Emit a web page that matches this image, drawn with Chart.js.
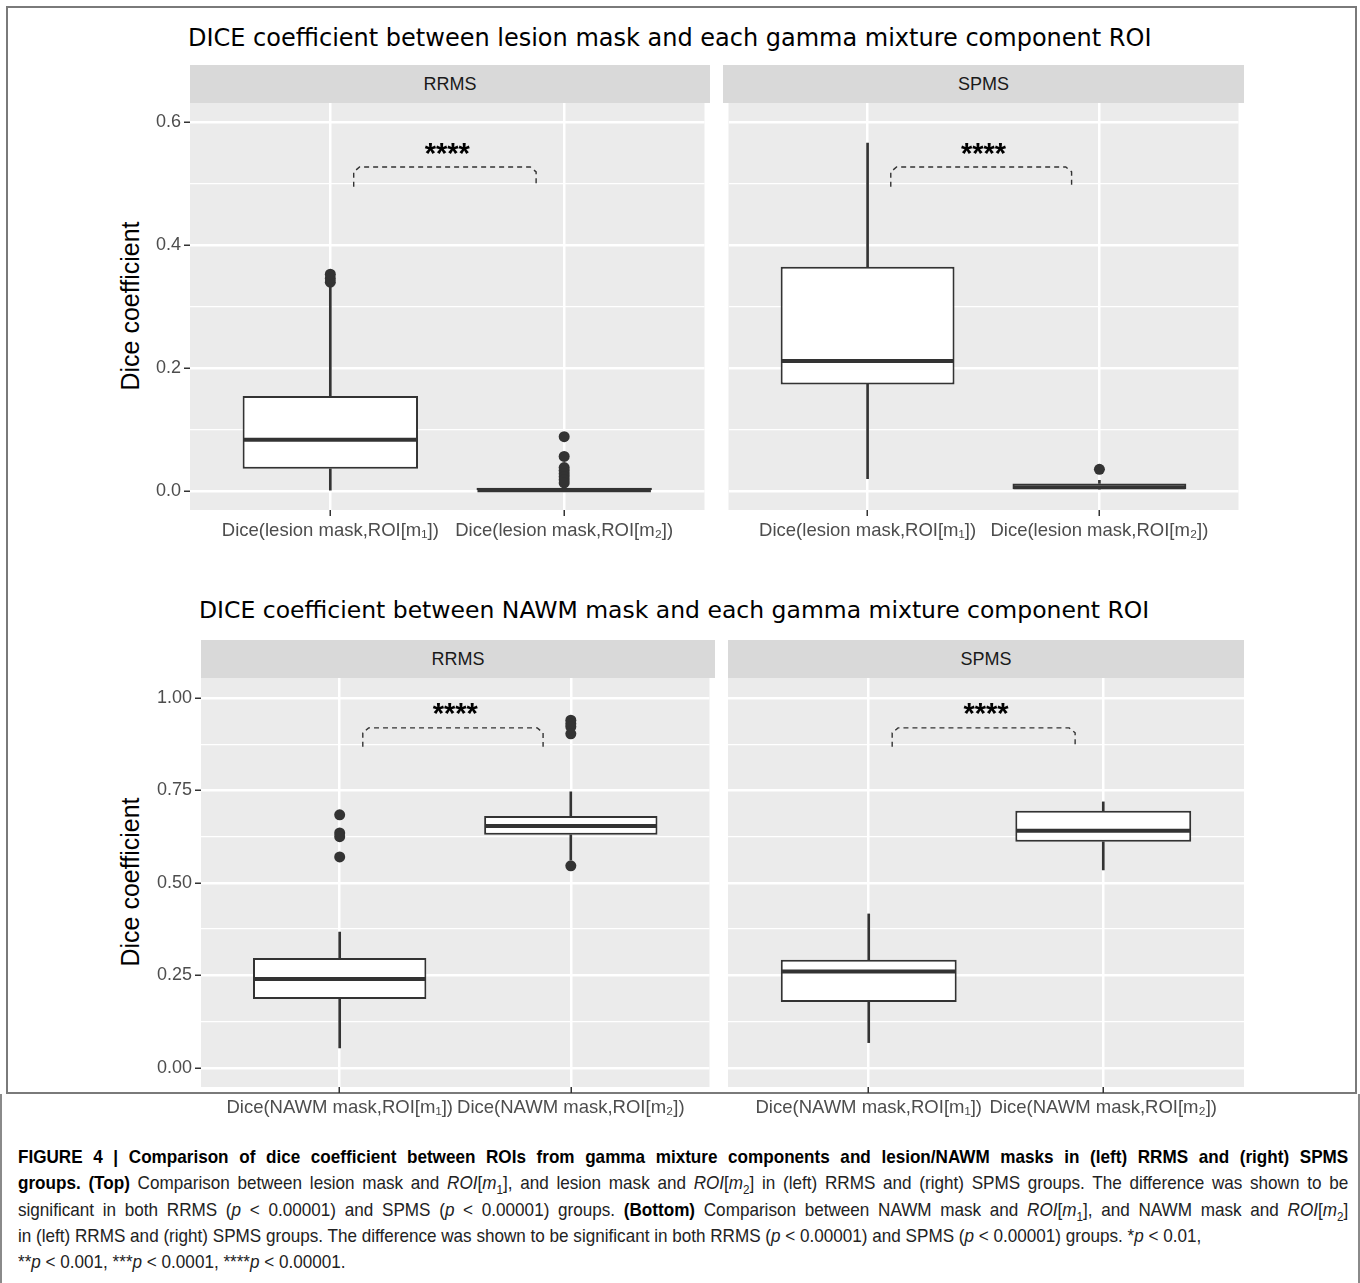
<!DOCTYPE html>
<html>
<head>
<meta charset="utf-8">
<script src="https://cdn.jsdelivr.net/npm/chart.js@4.4.1/dist/chart.umd.min.js"></script>
<style>
  body { margin: 0; width: 1360px; height: 1283px; position: relative; background: #fff; overflow: hidden;
         font-family: 'Liberation Sans', Arial, sans-serif; }
  .abs { position: absolute; }
  canvas { position: absolute; }
  .frame { left: 6px; top: 6px; width: 1351px; height: 1088px; border: 2px solid #7a7a7a; box-sizing: border-box; }
  .capbox { left: 0; top: 1094px; width: 1360px; height: 189px; border-left: 2px solid #8a8a8a; border-right: 2px solid #8a8a8a; box-sizing: border-box; }
  .title { font-family: 'DejaVu Sans', sans-serif; font-size: 24px; color: #000; white-space: nowrap; line-height: 26px; }
  .strip { background: #d9d9d9; color: #1a1a1a; font-size: 18px; text-align: center; line-height: 38px; height: 38px; }
  .ytitle { width: 300px; height: 30px; line-height: 30px; text-align: center; font-size: 25px; color: #000;
            transform: rotate(-90deg); white-space: nowrap; }
  .cap { left: 18px; width: 1478px; height: 26px; line-height: 26px; font-family: 'Liberation Sans', sans-serif;
         font-size: 19px; color: #222; white-space: nowrap; transform: scaleX(0.9); transform-origin: 0 0; }
  .just { text-align: justify; text-align-last: justify; white-space: normal; }
  .cap b { color: #000; }
  .cap sub { font-size: 13px; line-height: 0; }
</style>
</head>
<body>
<div class="abs frame"></div>
<div class="abs capbox"></div>

<div class="abs title" style="left:188px; top:25px;">DICE coefficient between lesion mask and each gamma mixture component ROI</div>
<div class="abs title" style="left:199px; top:597px; font-size:23.5px;">DICE coefficient between NAWM mask and each gamma mixture component ROI</div>

<div class="abs strip" style="left:190px; top:65px; width:520px;">RRMS</div>
<div class="abs strip" style="left:723px; top:65px; width:521px;">SPMS</div>
<div class="abs strip" style="left:201px; top:640px; width:514px;">RRMS</div>
<div class="abs strip" style="left:728px; top:640px; width:516px;">SPMS</div>

<div class="abs ytitle" style="left:-20px; top:291px;">Dice coefficient</div>
<div class="abs ytitle" style="left:-20px; top:867px;">Dice coefficient</div>

<canvas id="lesionRrms"></canvas>
<canvas id="lesionSpms"></canvas>
<canvas id="nawmRrms"></canvas>
<canvas id="nawmSpms"></canvas>

<div class="abs cap just" style="top:1144px;"><b>FIGURE 4 | Comparison of dice coefficient between ROIs from gamma mixture components and lesion/NAWM masks in (left) RRMS and (right) SPMS</b></div>
<div class="abs cap just" style="top:1170px;"><b>groups. (Top)</b> Comparison between lesion mask and <i>ROI</i>[<i>m</i><sub>1</sub>], and lesion mask and <i>ROI</i>[<i>m</i><sub>2</sub>] in (left) RRMS and (right) SPMS groups. The difference was shown to be</div>
<div class="abs cap just" style="top:1197px;">significant in both RRMS (<i>p</i> &lt; 0.00001) and SPMS (<i>p</i> &lt; 0.00001) groups. <b>(Bottom)</b> Comparison between NAWM mask and <i>ROI</i>[<i>m</i><sub>1</sub>], and NAWM mask and <i>ROI</i>[<i>m</i><sub>2</sub>]</div>
<div class="abs cap" style="top:1223px;">in (left) RRMS and (right) SPMS groups. The difference was shown to be significant in both RRMS (<i>p</i> &lt; 0.00001) and SPMS (<i>p</i> &lt; 0.00001) groups. *<i>p</i> &lt; 0.01,</div>
<div class="abs cap" style="top:1249px;">**<i>p</i> &lt; 0.001, ***<i>p</i> &lt; 0.0001, ****<i>p</i> &lt; 0.00001.</div>

<script>
// categories
const lesionCategories = ['Dice(lesion mask,ROI[m\u2081])', 'Dice(lesion mask,ROI[m\u2082])'];
const nawmCategories = ['Dice(NAWM mask,ROI[m\u2081])', 'Dice(NAWM mask,ROI[m\u2082])'];

// y ticks
const lesionTicks = [0, 0.2, 0.4, 0.6];
const lesionTickLabels = ['0.0', '0.2', '0.4', '0.6'];
const lesionMinorTicks = [0.1, 0.3, 0.5];
const lesionRange = [-0.03, 0.631];
const nawmTicks = [0, 0.25, 0.5, 0.75, 1.0];
const nawmTickLabels = ['0.00', '0.25', '0.50', '0.75', '1.00'];
const nawmMinorTicks = [0.125, 0.375, 0.625, 0.875];
const nawmRange = [-0.052, 1.054];

// lesion mask, RRMS  (one value per category)
const lesionRrmsLow = [0.000, 0.000];
const lesionRrmsQ1 = [0.037, 0.000];
const lesionRrmsMedian = [0.084, 0.002];
const lesionRrmsQ3 = [0.155, 0.006];
const lesionRrmsHigh = [0.332, 0.010];
const lesionRrmsOutliers1 = [0.340, 0.346, 0.353];
const lesionRrmsOutliers2 = [0.089, 0.057, 0.039, 0.034, 0.029, 0.024, 0.019, 0.014];

// lesion mask, SPMS
const lesionSpmsLow = [0.021, 0.004];
const lesionSpmsQ1 = [0.174, 0.004];
const lesionSpmsMedian = [0.212, 0.007];
const lesionSpmsQ3 = [0.365, 0.013];
const lesionSpmsHigh = [0.566, 0.018];
const lesionSpmsOutliers1 = [];
const lesionSpmsOutliers2 = [0.036];

// NAWM mask, RRMS
const nawmRrmsLow = [0.054, 0.562];
const nawmRrmsQ1 = [0.186, 0.630];
const nawmRrmsMedian = [0.240, 0.654];
const nawmRrmsQ3 = [0.297, 0.681];
const nawmRrmsHigh = [0.367, 0.746];
const nawmRrmsOutliers1 = [0.684, 0.635, 0.625, 0.570];
const nawmRrmsOutliers2 = [0.940, 0.930, 0.922, 0.903, 0.546];

// NAWM mask, SPMS
const nawmSpmsLow = [0.068, 0.535];
const nawmSpmsQ1 = [0.178, 0.611];
const nawmSpmsMedian = [0.260, 0.641];
const nawmSpmsQ3 = [0.292, 0.695];
const nawmSpmsHigh = [0.416, 0.719];
const nawmSpmsOutliers1 = [];
const nawmSpmsOutliers2 = [];

// significance brackets: [foot, top, label]
const sigLabel = '****';
const bracketEnds = [1.1, 1.88];
const lesionBracket = [0.495, 0.527, 0.556];
const nawmBracket = [0.868, 0.919, 0.970];

const DARK = '#333333';

const panelBg = {
  id: 'panelBg',
  beforeDraw(chart) {
    const { ctx, chartArea: a } = chart;
    ctx.save();
    ctx.fillStyle = '#ebebeb';
    ctx.fillRect(a.left, a.top, a.width, a.height);
    ctx.restore();
  }
};

const boxExtras = {
  id: 'boxExtras',
  afterDatasetsDraw(chart, args, opts) {
    const ctx = chart.ctx, xs = chart.scales.x, ys = chart.scales.y;
    const boxes = chart.getDatasetMeta(0).data;
    ctx.save();
    ctx.strokeStyle = DARK;
    ctx.lineWidth = 4;
    opts.medians.forEach((m, i) => {
      const b = boxes[i];
      const py = ys.getPixelForValue(m);
      ctx.beginPath();
      ctx.moveTo(b.x - b.width / 2 + 1, py);
      ctx.lineTo(b.x + b.width / 2 - 1, py);
      ctx.stroke();
    });
    ctx.fillStyle = '#000';
    ctx.font = 'bold 29px "Liberation Sans"';
    ctx.textAlign = 'center';
    ctx.textBaseline = 'middle';
    ctx.fillText(opts.label, xs.getPixelForValue(1.5), ys.getPixelForValue(opts.labelY) + 6);
    ctx.restore();
  }
};

function buildTicks(majors, labels, minors) {
  return majors.map((v, k) => ({ value: v, text: labels[k] }))
    .concat(minors.map(v => ({ value: v, minor: true, text: '' })))
    .sort((a, b) => a.value - b.value);
}

function makePanel(id, pos, cats, stats, yCfg, bracket, showY) {
  const canvas = document.getElementById(id);
  canvas.width = pos.w;
  canvas.height = pos.h;
  canvas.style.left = pos.x + 'px';
  canvas.style.top = pos.y + 'px';

  const range = (a, b) => a.map((v, i) => ({ x: i + 1, y: [v, b[i]] }));
  const outliers = stats.out1.map(v => ({ x: 1, y: v })).concat(stats.out2.map(v => ({ x: 2, y: v })));
  const span = yCfg.range[1] - yCfg.range[0];
  const r = span * 0.012;
  const [x0, x1] = bracketEnds;
  const bracketLine = [
    { x: x0, y: bracket[0] }, { x: x0, y: bracket[1] - r }, { x: x0 + 0.025, y: bracket[1] },
    { x: x1 - 0.025, y: bracket[1] }, { x: x1, y: bracket[1] - r }, { x: x1, y: bracket[0] }
  ];
  const tickList = buildTicks(yCfg.ticks, yCfg.labels, yCfg.minor);

  new Chart(canvas, {
    type: 'bar',
    data: {
      datasets: [
        { data: range(stats.q1, stats.q3), backgroundColor: '#ffffff', borderColor: DARK, borderWidth: 2,
          borderSkipped: false, barPercentage: 0.75, categoryPercentage: 1, grouped: false },
        { data: range(stats.low, stats.q1), backgroundColor: DARK, borderWidth: 0, barThickness: 2, grouped: false },
        { data: range(stats.q3, stats.high), backgroundColor: DARK, borderWidth: 0, barThickness: 2, grouped: false },
        { type: 'scatter', data: outliers, pointRadius: 5.5, pointBackgroundColor: DARK, pointBorderWidth: 0 },
        { type: 'line', data: bracketLine, borderColor: DARK, borderWidth: 1.4, borderDash: [5, 4],
          pointRadius: 0, fill: false, tension: 0 }
      ]
    },
    options: {
      responsive: false,
      animation: false,
      devicePixelRatio: 1,
      layout: { padding: { top: 20, left: 0, right: 0, bottom: 0 } },
      plugins: {
        legend: { display: false },
        tooltip: { enabled: false },
        boxExtras: { medians: stats.median, label: sigLabel, labelY: bracket[2] }
      },
      scales: {
        x: {
          type: 'linear', min: 0.4, max: 2.6, offset: false,
          afterBuildTicks: s => { s.ticks = cats.map((c, i) => ({ value: i + 1 })); },
          afterFit: s => { s.height = 50; },
          grid: { color: '#ffffff', lineWidth: 2.5, offset: false, tickColor: DARK, tickLength: 6, tickWidth: 1.5 },
          border: { display: false },
          ticks: { autoSkip: false, maxRotation: 0, minRotation: 0, padding: 4, color: '#4d4d4d',
                   font: { size: 18.5 }, callback: (v, i) => cats[i] }
        },
        y: {
          type: 'linear', min: yCfg.range[0], max: yCfg.range[1],
          afterBuildTicks: s => { s.ticks = tickList.map(t => ({ ...t })); },
          afterFit: s => { s.width = pos.yw; },
          grid: {
            color: '#ffffff',
            lineWidth: c => (c.tick && c.tick.minor ? 1.2 : 2.5),
            drawTicks: showY, tickLength: 6, tickWidth: 1.5,
            tickColor: c => (c.tick && c.tick.minor ? 'rgba(0,0,0,0)' : DARK)
          },
          border: { display: false },
          ticks: { display: showY, autoSkip: false, padding: 3, color: '#4d4d4d', font: { size: 18 },
                   callback: (v, i, t) => (t[i] && t[i].text) || '' }
        }
      }
    },
    plugins: [panelBg, boxExtras]
  });
}

Chart.defaults.font.family = "'Liberation Sans', Arial, sans-serif";

const lesionY = { range: lesionRange, ticks: lesionTicks, labels: lesionTickLabels, minor: lesionMinorTicks };
const nawmY = { range: nawmRange, ticks: nawmTicks, labels: nawmTickLabels, minor: nawmMinorTicks };

makePanel('lesionRrms', { x: 100, y: 83, w: 610, h: 477, yw: 90 }, lesionCategories,
  { low: lesionRrmsLow, q1: lesionRrmsQ1, median: lesionRrmsMedian, q3: lesionRrmsQ3, high: lesionRrmsHigh,
    out1: lesionRrmsOutliers1, out2: lesionRrmsOutliers2 }, lesionY, lesionBracket, true);
makePanel('lesionSpms', { x: 723, y: 83, w: 521, h: 477, yw: 0 }, lesionCategories,
  { low: lesionSpmsLow, q1: lesionSpmsQ1, median: lesionSpmsMedian, q3: lesionSpmsQ3, high: lesionSpmsHigh,
    out1: lesionSpmsOutliers1, out2: lesionSpmsOutliers2 }, lesionY, lesionBracket, false);
makePanel('nawmRrms', { x: 100, y: 658, w: 615, h: 479, yw: 101 }, nawmCategories,
  { low: nawmRrmsLow, q1: nawmRrmsQ1, median: nawmRrmsMedian, q3: nawmRrmsQ3, high: nawmRrmsHigh,
    out1: nawmRrmsOutliers1, out2: nawmRrmsOutliers2 }, nawmY, nawmBracket, true);
makePanel('nawmSpms', { x: 728, y: 658, w: 516, h: 479, yw: 0 }, nawmCategories,
  { low: nawmSpmsLow, q1: nawmSpmsQ1, median: nawmSpmsMedian, q3: nawmSpmsQ3, high: nawmSpmsHigh,
    out1: nawmSpmsOutliers1, out2: nawmSpmsOutliers2 }, nawmY, nawmBracket, false);
</script>
</body>
</html>
